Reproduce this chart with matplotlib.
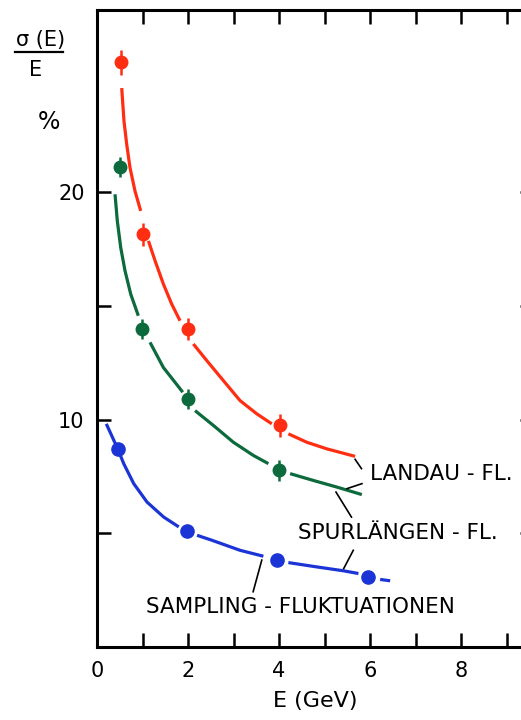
import numpy as np
import matplotlib
matplotlib.use('Agg')
import matplotlib.pyplot as plt

nan = np.nan

# Messpunkte (E in GeV, sigma/E in %)
landau_E = [0.52, 1.02, 2.01, 4.02]
landau_s = [25.7, 18.14, 13.98, 9.74]
landau_err = [0.55, 0.5, 0.5, 0.5]

spur_E = [0.51, 0.98, 1.99, 4.0]
spur_s = [21.09, 13.98, 10.91, 7.76]
spur_err = [0.45, 0.45, 0.45, 0.45]

samp_E = [0.455, 1.98, 3.96, 5.96]
samp_s = [8.71, 5.10, 3.82, 3.08]

# Kurven (Luecken um die Punkte als nan)
landau_cx = [0.543, 0.593, 0.653, 0.725, 0.835, 0.960, nan,
             1.130, 1.277, 1.459, 1.642, 1.824, nan,
             2.116, 2.411, 2.776, 3.143, 3.510, 3.840, nan,
             4.204, 4.609, 5.048, 5.670]
landau_cy = [24.57, 23.11, 22.09, 21.07, 20.04, 19.17, nan,
             17.85, 16.97, 15.95, 15.07, 14.34, nan,
             13.32, 12.59, 11.71, 10.83, 10.25, 9.81, nan,
             9.37, 9.00, 8.71, 8.38]

spur_cx = [0.396, 0.446, 0.521, 0.615, 0.741, 0.908, nan,
           1.165, 1.457, 1.884, nan,
           2.154, 2.556, 2.996, 3.435, 3.765, nan,
           4.242, 4.754, 5.268, 5.818]
spur_cy = [19.90, 18.73, 17.56, 16.54, 15.51, 14.56, nan,
           13.39, 12.29, 11.20, nan,
           10.39, 9.74, 9.00, 8.42, 8.06, nan,
           7.62, 7.32, 7.03, 6.70]

samp_cx = [0.204, 0.455, 0.587, 0.807, 1.099, 1.466, 1.796, nan,
           2.198, 2.527, 3.143, 3.655, nan,
           4.204, 4.829, 5.413, 5.743, nan,
           6.220, 6.440]
samp_cy = [9.81, 8.71, 8.06, 7.18, 6.37, 5.71, 5.28, nan,
           4.91, 4.69, 4.25, 3.99, nan,
           3.71, 3.52, 3.35, 3.23, nan,
           2.97, 2.91]

# Beschriftungen und Hinweislinien
labels = ['LANDAU - FL.', 'SPURLÄNGEN - FL.', 'SAMPLING - FLUKTUATIONEN']
label_x = [6.0, 4.42, 1.08]
label_y = [7.6, 5.0, 1.75]
leaders = [((5.67, 8.25), (5.81, 7.84)),
           ((5.49, 6.96), (5.82, 7.18)),
           ((5.25, 6.81), (5.59, 5.71)),
           ((5.63, 4.25), (5.42, 3.45)),
           ((3.43, 2.43), (3.62, 3.82))]

red = '#ff2e12'
green = '#0c6a3c'
blue = '#1b34d6'

plt.rcParams['font.family'] = ['DejaVu Sans']
fig = plt.figure(figsize=(5.21, 7.2), dpi=100)
W, H = 521, 720
ax = fig.add_axes([97 / W, 73 / H, 437 / W, 637 / H])

for cx, cy, c in [(landau_cx, landau_cy, red), (spur_cx, spur_cy, green),
                  (samp_cx, samp_cy, blue)]:
    ax.plot(cx, cy, color=c, lw=2.3, solid_joinstyle='round',
            solid_capstyle='butt')

ax.errorbar(landau_E, landau_s, yerr=landau_err, fmt='o', color=red, ms=9,
            elinewidth=1.8, capsize=0)
ax.errorbar(spur_E, spur_s, yerr=spur_err, fmt='o', color=green, ms=9,
            elinewidth=1.8, capsize=0)
ax.plot(samp_E, samp_s, 'o', color=blue, ms=9.5)

for (p0, p1) in leaders:
    ax.plot([p0[0], p1[0]], [p0[1], p1[1]], color='black', lw=1.2)
for t, x, y in zip(labels, label_x, label_y):
    ax.text(x, y, t, fontsize=15.5, va='center', ha='left')

ax.set_xlim(0, 9.6)
ax.set_ylim(0, 28)
ax.set_xticks([0, 2, 4, 6, 8])
ax.set_xticks([1, 3, 5, 7, 9], minor=True)
ax.set_yticks([10, 20])
ax.set_yticks([5, 15], minor=True)
ax.tick_params(which='both', direction='in', length=10, width=1.8,
               top=True, right=True, labelsize=15)
ax.tick_params(axis='x', pad=10)
ax.tick_params(axis='y', pad=9)
for s in ax.spines.values():
    s.set_linewidth(2.2)

ax.set_xlabel('E (GeV)', fontsize=16, labelpad=7)

# Achsenbeschriftung y: sigma(E)/E in %
fig.text(41 / W, 1 - 40 / H, 'σ (E)', fontsize=15, ha='center', va='center')
fig.add_artist(plt.Line2D([15 / W, 63 / W], [1 - 52 / H, 1 - 52 / H],
                          color='black', lw=1.6))
fig.text(36 / W, 1 - 70 / H, 'E', fontsize=15, ha='center', va='center')
fig.text(49 / W, 1 - 122 / H, '%', fontsize=17, ha='center', va='center')

fig.savefig('out.png', dpi=100)
